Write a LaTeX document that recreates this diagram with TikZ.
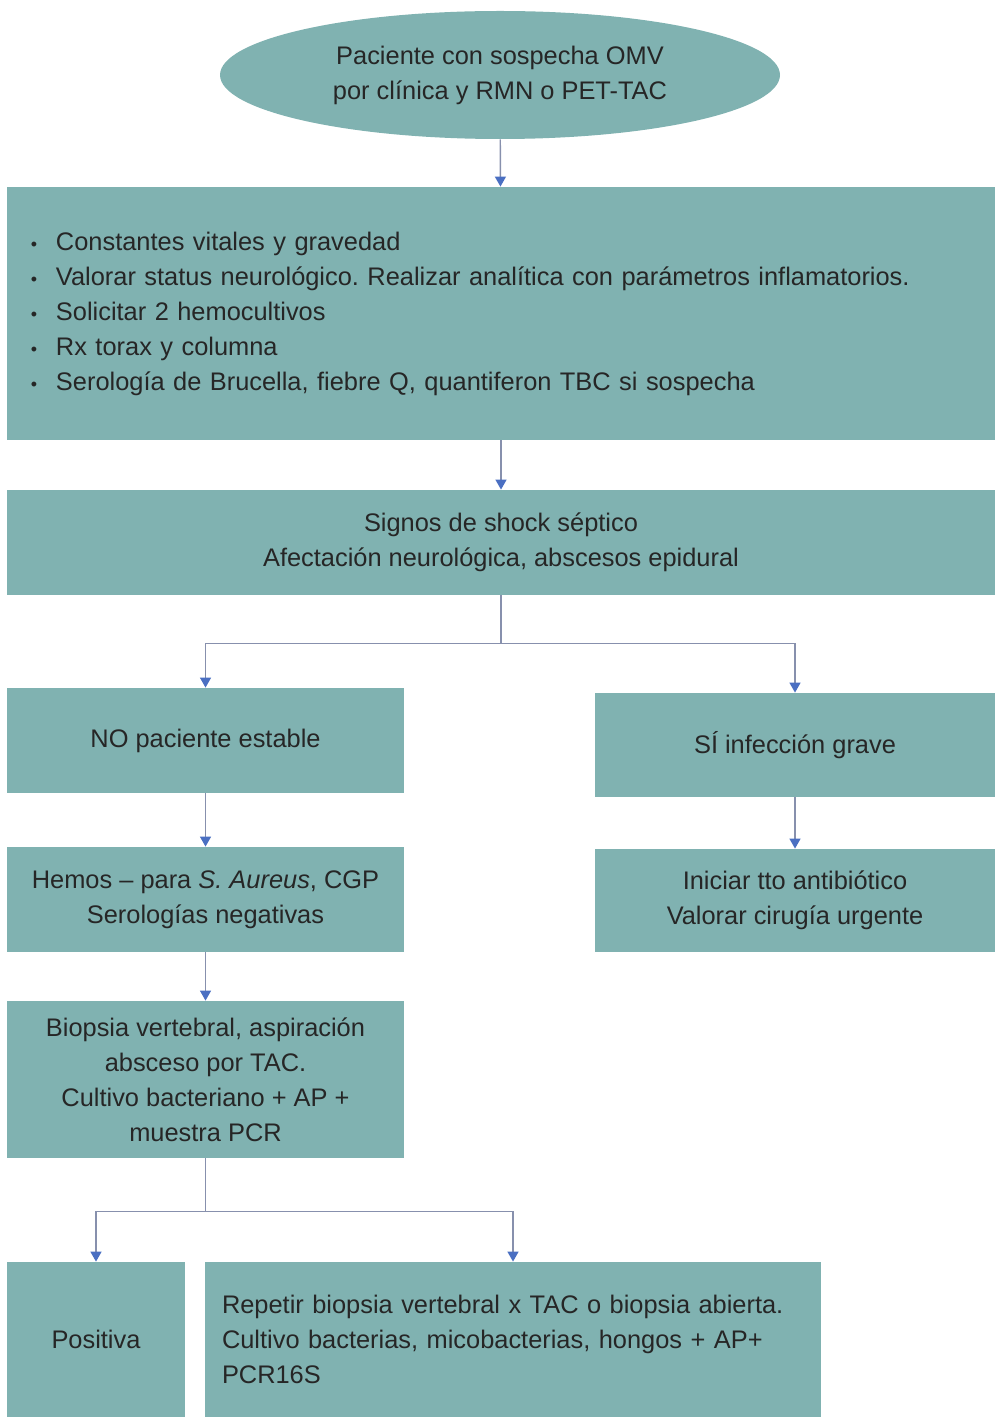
\documentclass[tikz,border=0pt]{standalone}
\usepackage{fontspec}
\setmainfont{Liberation Sans}
\usepackage{tikz}
\usetikzlibrary{positioning, shapes, arrows.meta}
\frenchspacing

\definecolor{boxteal}{HTML}{80B2B1}
\definecolor{linegray}{HTML}{8790AD}
\definecolor{arrblue}{HTML}{4A6FC2}

\begin{document}
\begin{tikzpicture}[x=0.5pt, y=-0.5pt]
  \tikzstyle{flowbox}=[rectangle, fill=boxteal, text=black!85, align=center,
  font=\fontsize{12.7}{17.5}\selectfont, inner sep=0pt]
  \tikzstyle{startnode}=[ellipse, fill=boxteal, text=black!85, align=center,
  font=\fontsize{12.7}{17.5}\selectfont, inner sep=0pt]
  \tikzstyle{conn}=[draw=linegray, line width=0.7pt]
  \tikzstyle{arr}=[conn, -{Triangle[length=5pt, width=5.5pt, color=arrblue]}]

  \useasboundingbox (0,0) rectangle (1001,1417);

  \node (pac) at (500,75) [startnode, minimum width=280pt, minimum height=64pt]
  {Paciente con sospecha OMV\\por clínica y RMN o PET-TAC};

  \node (eval) at (501,313.5) [flowbox, minimum width=494pt, minimum height=126.5pt,
  text width=470pt, align=left]
  {\makebox[12.5pt][l]{\small\textbullet}Constantes vitales y gravedad\\
   \makebox[12.5pt][l]{\small\textbullet}Valorar status neurológico. Realizar analítica con parámetros inflamatorios.\\
   \makebox[12.5pt][l]{\small\textbullet}Solicitar 2 hemocultivos\\
   \makebox[12.5pt][l]{\small\textbullet}Rx torax y columna\\
   \makebox[12.5pt][l]{\small\textbullet}Serología de Brucella, fiebre Q, quantiferon TBC si sospecha};

  \node (shock) at (501,542.5) [flowbox, minimum width=494pt, minimum height=52.5pt]
  {Signos de shock séptico\\Afectación neurológica, abscesos epidural};

  \node (noest) at (205.5,740.5) [flowbox, minimum width=198.5pt, minimum height=52.5pt]
  {NO paciente estable};
  \node (siinf) at (795,745) [flowbox, minimum width=200pt, minimum height=52pt]
  {SÍ infección grave};

  \node (hemos) at (205.5,899.5) [flowbox, minimum width=198.5pt, minimum height=52.5pt]
  {Hemos – para \textit{S. Aureus}, CGP\\Serologías negativas};
  \node (tto) at (795,900.5) [flowbox, minimum width=200pt, minimum height=51.5pt]
  {Iniciar tto antibiótico\\Valorar cirugía urgente};

  \node (biop) at (205.5,1079.5) [flowbox, minimum width=198.5pt, minimum height=78.5pt]
  {Biopsia vertebral, aspiración\\absceso por TAC.\\Cultivo bacteriano + AP +\\muestra PCR};

  \node (posit) at (96,1339.5) [flowbox, minimum width=89pt, minimum height=77.5pt]
  {Positiva};
  \node (repet) at (513,1339.5) [flowbox, minimum width=308pt, minimum height=77.5pt,
  text width=291pt, align=left]
  {Repetir biopsia vertebral x TAC o biopsia abierta.\\
   Cultivo bacterias, micobacterias, hongos + AP+\\PCR16S};

  \draw[arr] (pac) -- (eval);
  \draw[arr] (eval) -- (shock);
  \draw[conn] (shock.south) -- ++(0,48) coordinate (sj);
  \draw[arr] (sj) -| (noest);
  \draw[arr] (sj) -| (siinf);
  \draw[arr] (noest) -- (hemos);
  \draw[arr] (siinf) -- (tto);
  \draw[arr] (hemos) -- (biop);
  \draw[conn] (biop.south) -- ++(0,53) coordinate (bj);
  \draw[arr] (bj) -| (posit);
  \draw[arr] (bj) -| (repet);
\end{tikzpicture}
\end{document}
